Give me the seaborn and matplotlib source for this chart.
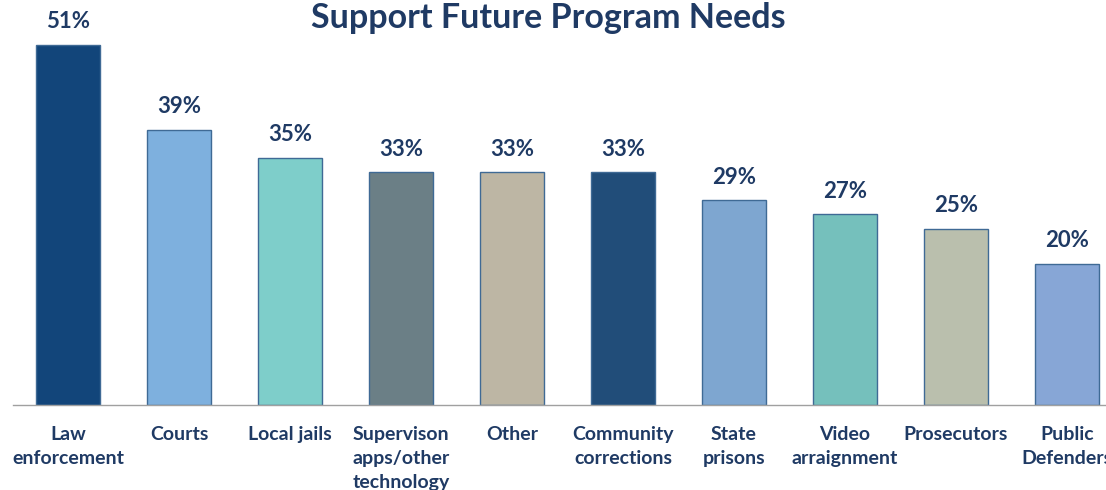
import matplotlib
matplotlib.use("Agg")
import matplotlib.pyplot as plt
import seaborn as sns
import pandas as pd
import numpy as np

categories = ["Law\nenforcement", "Courts", "Local jails", "Supervison\napps/other\ntechnology",
              "Other", "Community\ncorrections", "State\nprisons", "Video\narraignment",
              "Prosecutors", "Public\nDefenders"]
values = [51, 39, 35, 33, 33, 33, 29, 27, 25, 20]
colors = ["#12457A", "#7EB0DE", "#7ECECA", "#6B7F86", "#BDB6A4",
          "#214D79", "#7EA6D0", "#75C0BC", "#BABFAD", "#87A6D6"]
title = "Support Future Program Needs"

sns.set_style("white")
plt.rcParams['font.family'] = ['Lato', 'DejaVu Sans']
navy = "#1F3A64"

df = pd.DataFrame({"cat": categories, "val": values})
fig = plt.figure(figsize=(11.06, 4.9), dpi=100)
ax = fig.add_axes([12.5 / 1106, 85 / 490, 1110 / 1106, 405 / 490])
sns.barplot(data=df, x="cat", y="val", hue="cat", palette=colors, legend=False,
            width=0.58, edgecolor="#3F6A95", linewidth=1.0, saturation=1, ax=ax)
ax.set_xlim(-0.5, len(categories) - 0.5)
ax.set_ylim(0, 405 / 7.06)
for c in ax.containers:
    ax.bar_label(c, fmt="%d%%", padding=9, fontsize=16, fontweight="bold", color=navy)

ax.set_xlabel("")
ax.set_ylabel("")
ax.set_yticks([])
ax.tick_params(axis="x", which="major", length=0, pad=15, labelsize=14, labelcolor=navy)
for t in ax.get_xticklabels():
    t.set_fontweight("bold")
    t.set_verticalalignment("top")
    t.set_linespacing(1.5)
ax.set_xticks(np.arange(-0.5, len(categories), 1.0), minor=True)
ax.tick_params(axis="x", which="minor", length=8, width=1, color="#A0A0A0", direction="out")
for s in ["top", "right", "left"]:
    ax.spines[s].set_visible(False)
ax.spines["bottom"].set_color("#A0A0A0")
ax.spines["bottom"].set_linewidth(1)

fig.text(548 / 1106, 1 - 2 / 490, title, ha="center", va="top", fontsize=24.5,
         fontweight="bold", color=navy)
fig.savefig("out.png", dpi=100)
